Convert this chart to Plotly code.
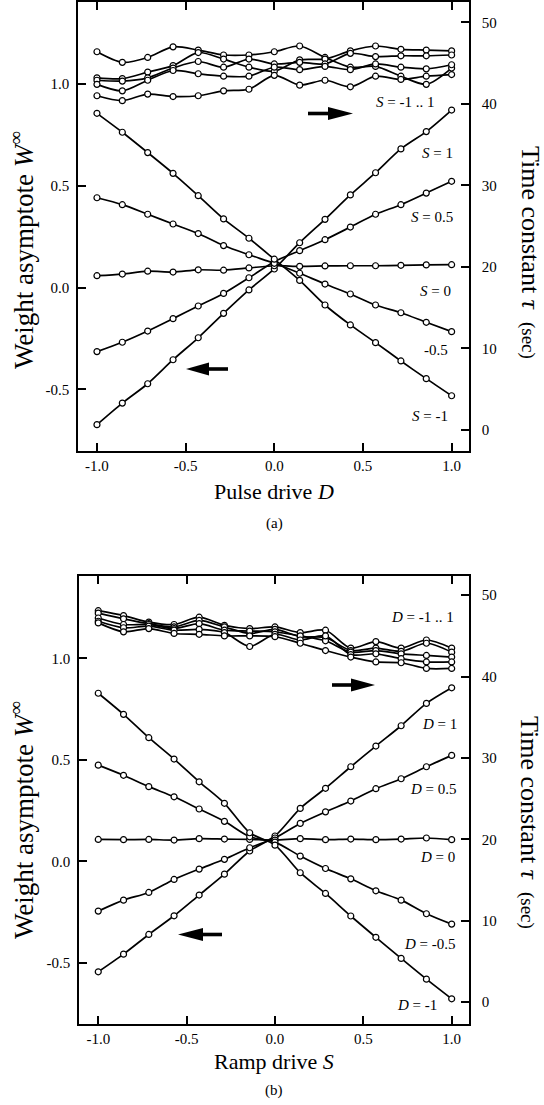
import plotly.graph_objects as go

# ---------------- data ----------------
drive = [-1.0, -0.857, -0.714, -0.571, -0.429, -0.286, -0.143, 0.0,
         0.143, 0.286, 0.429, 0.571, 0.714, 0.857, 1.0]

# panel (a): W-infinity vs pulse drive D, one curve per ramp drive S
a_S_labels = ["S = 1", "S = 0.5", "S = 0", "-0.5", "S = -1"]
a_W_S1 = [-0.674, -0.568, -0.473, -0.355, -0.247, -0.127, -0.012, 0.091, 0.220, 0.335, 0.455, 0.564, 0.681, 0.766, 0.872]
a_W_S05 = [-0.315, -0.269, -0.214, -0.153, -0.091, -0.029, 0.048, 0.127, 0.181, 0.235, 0.297, 0.360, 0.407, 0.464, 0.522]
a_W_S0 = [0.058, 0.066, 0.080, 0.076, 0.087, 0.085, 0.096, 0.107, 0.104, 0.106, 0.107, 0.107, 0.109, 0.111, 0.112]
a_W_Sm05 = [0.441, 0.407, 0.360, 0.312, 0.265, 0.206, 0.161, 0.119, 0.070, 0.017, -0.032, -0.086, -0.124, -0.171, -0.217]
a_W_Sm1 = [0.856, 0.763, 0.663, 0.561, 0.451, 0.337, 0.242, 0.139, 0.035, -0.086, -0.184, -0.271, -0.361, -0.448, -0.532]

# panel (a): time constant tau (sec)
a_tau_1 = [46.4, 45.1, 45.7, 47.0, 46.6, 46.0, 46.0, 46.4, 47.1, 45.7, 44.5, 44.6, 43.4, 42.4, 44.4]
a_tau_2 = [43.2, 43.1, 43.9, 44.7, 46.3, 45.5, 44.5, 44.0, 45.4, 45.5, 46.5, 47.1, 46.7, 46.6, 46.5]
a_tau_3 = [42.9, 42.8, 43.2, 44.4, 45.2, 44.5, 45.5, 44.9, 45.1, 44.9, 46.2, 45.8, 45.9, 45.9, 46.0]
a_tau_4 = [42.4, 41.6, 42.9, 44.1, 43.7, 43.4, 43.4, 44.5, 44.2, 44.6, 44.2, 44.9, 44.5, 44.3, 44.8]
a_tau_5 = [41.0, 40.4, 41.2, 40.9, 41.0, 41.6, 41.8, 43.5, 42.3, 42.9, 42.1, 43.4, 43.0, 43.4, 43.6]

# panel (b): W-infinity vs ramp drive S, one curve per pulse drive D
b_D_labels = ["D = 1", "D = 0.5", "D = 0", "D = -0.5", "D = -1"]
b_W_D1 = [-0.544, -0.457, -0.360, -0.268, -0.166, -0.063, 0.051, 0.125, 0.261, 0.360, 0.466, 0.568, 0.668, 0.778, 0.855]
b_W_D05 = [-0.245, -0.191, -0.153, -0.089, -0.038, 0.010, 0.067, 0.115, 0.187, 0.244, 0.297, 0.358, 0.407, 0.466, 0.522]
b_W_D0 = [0.108, 0.107, 0.108, 0.105, 0.112, 0.110, 0.108, 0.105, 0.112, 0.107, 0.110, 0.107, 0.110, 0.115, 0.107]
b_W_Dm05 = [0.474, 0.424, 0.368, 0.318, 0.258, 0.197, 0.121, 0.095, 0.026, -0.035, -0.086, -0.145, -0.191, -0.258, -0.309]
b_W_Dm1 = [0.828, 0.724, 0.609, 0.504, 0.392, 0.286, 0.141, 0.080, -0.056, -0.158, -0.269, -0.374, -0.478, -0.580, -0.677]

# panel (b): time constant tau (sec)
b_tau_1 = [48.1, 47.5, 46.7, 46.4, 47.3, 46.3, 45.9, 46.1, 45.4, 45.7, 43.5, 44.3, 43.5, 44.5, 43.5]
b_tau_2 = [47.8, 47.1, 46.5, 46.1, 46.9, 46.1, 45.3, 45.8, 44.9, 44.8, 43.2, 43.5, 43.1, 44.1, 43.0]
b_tau_3 = [47.2, 46.4, 46.4, 45.9, 46.5, 45.7, 45.6, 45.5, 45.0, 44.4, 43.0, 43.2, 42.8, 42.6, 42.4]
b_tau_4 = [46.8, 46.0, 46.2, 45.7, 45.8, 45.4, 43.7, 45.2, 44.5, 45.0, 42.7, 42.8, 42.2, 41.8, 41.8]
b_tau_5 = [46.6, 45.5, 45.9, 45.3, 45.2, 45.0, 45.0, 44.9, 44.1, 43.2, 42.4, 41.8, 41.7, 41.0, 41.0]

x_tickvals = [-1.0, -0.5, 0.0, 0.5, 1.0]
x_ticktext = ["-1.0", "-0.5", "0.0", "0.5", "1.0"]
w_tickvals = [-0.5, 0.0, 0.5, 1.0]
w_ticktext = ["-0.5", "0.0", "0.5", "1.0"]
tau_tickvals = [0, 10, 20, 30, 40, 50]
tau_ticktext = ["0", "10", "20", "30", "40", "50"]

# ---------------- figure ----------------
FW, FH = 544, 1105
SERIF = "Liberation Serif, Times New Roman, serif"


def px(x):
    return x / FW


def py(y):
    return 1 - y / FH


fig = go.Figure()


def add_curve(xs, ys, xa, ya):
    fig.add_trace(go.Scatter(
        x=xs, y=ys, xaxis=xa, yaxis=ya, mode="lines+markers",
        line=dict(color="black", width=1.7, shape="spline", smoothing=0.8),
        marker=dict(symbol="circle", size=6, color="white",
                    line=dict(color="black", width=1.2)),
        showlegend=False, hoverinfo="skip"))


for ys in [a_W_S1, a_W_S05, a_W_S0, a_W_Sm05, a_W_Sm1]:
    add_curve(drive, ys, "x", "y")
for ys in [a_tau_1, a_tau_2, a_tau_3, a_tau_4, a_tau_5]:
    add_curve(drive, ys, "x", "y2")
for ys in [b_W_D1, b_W_D05, b_W_D0, b_W_Dm05, b_W_Dm1]:
    add_curve(drive, ys, "x2", "y3")
for ys in [b_tau_1, b_tau_2, b_tau_3, b_tau_4, b_tau_5]:
    add_curve(drive, ys, "x2", "y4")

axis_common = dict(showline=True, linecolor="black", linewidth=1.6,
                   ticks="inside", ticklen=8, tickwidth=1.6, tickcolor="black",
                   showgrid=False, zeroline=False,
                   tickfont=dict(family=SERIF, size=15, color="black"))

fig.update_layout(
    width=FW, height=FH, margin=dict(l=0, r=0, t=0, b=0),
    paper_bgcolor="white", plot_bgcolor="white",
    xaxis=dict(domain=[px(78), px(469)], anchor="y", range=[-1.107, 1.098],
               tickvals=x_tickvals, ticktext=x_ticktext, mirror="ticks", **axis_common),
    yaxis=dict(domain=[py(450.7), py(2)], anchor="x", range=[-0.802, 1.403],
               tickvals=w_tickvals, ticktext=w_ticktext, ticklabelstandoff=4, **axis_common),
    yaxis2=dict(overlaying="y", side="right", anchor="x", range=[-2.54, 52.5],
                tickvals=tau_tickvals, ticktext=tau_ticktext, ticklabelstandoff=8, **axis_common),
    xaxis2=dict(domain=[px(79), px(469)], anchor="y3", range=[-1.109, 1.098],
                tickvals=x_tickvals, ticktext=x_ticktext, mirror="ticks", **axis_common),
    yaxis3=dict(domain=[py(1024), py(575.7)], anchor="x2", range=[-0.801, 1.407],
                tickvals=w_tickvals, ticktext=w_ticktext, ticklabelstandoff=4, **axis_common),
    yaxis4=dict(overlaying="y3", side="right", anchor="x2", range=[-2.7, 52.4],
                tickvals=tau_tickvals, ticktext=tau_ticktext, ticklabelstandoff=8, **axis_common),
)

annotations = []


def text_at(x, y, text, size=15, angle=0):
    annotations.append(dict(x=px(x), y=py(y), xref="paper", yref="paper", text=text,
                            showarrow=False, textangle=angle, xanchor="center", yanchor="middle",
                            font=dict(family=SERIF, size=size, color="black")))


def italic_label(s):
    if s.startswith("S") or s.startswith("D"):
        return "<i>" + s[0] + "</i>" + s[1:]
    return s


# panel (a) texts
text_at(405, 102, italic_label("S = -1 .. 1"))
for (lx, ly), lab in zip([(437, 153), (432, 217), (435, 291), (436, 350), (430, 416)], a_S_labels):
    text_at(lx, ly, italic_label(lab))
text_at(274, 491, "Pulse drive <i>D</i>", size=22)
text_at(274, 523, "(a)", size=15)
text_at(22, 250, "Weight asymptote <i>W</i><sup>∞</sup>", size=27, angle=-90)
text_at(530, 252, "Time constant <i>τ</i>  <span style='font-size:19px'>(sec)</span>", size=26, angle=90)

# panel (b) texts
text_at(422, 617, italic_label("D = -1 .. 1"))
for (lx, ly), lab in zip([(439, 724), (433, 789), (437, 857), (430, 944), (417, 1005)], b_D_labels):
    text_at(lx, ly, italic_label(lab))
text_at(274, 1061, "Ramp drive <i>S</i>", size=22)
text_at(274, 1090, "(b)", size=15)
text_at(22, 820, "Weight asymptote <i>W</i><sup>∞</sup>", size=27, angle=-90)
text_at(530, 822, "Time constant <i>τ</i>  <span style='font-size:19px'>(sec)</span>", size=26, angle=90)

fig.update_layout(annotations=annotations)

# arrows (drawn as shapes in paper coordinates)
shapes = []


def arrow(x_tail, x_neck, x_head, yc, shaft_h=3.6, head_h=13):
    shapes.append(dict(type="path", xref="paper", yref="paper",
                       path=f"M{px(x_tail)},{py(yc - shaft_h / 2)} L{px(x_neck)},{py(yc - shaft_h / 2)} "
                            f"L{px(x_neck)},{py(yc + shaft_h / 2)} L{px(x_tail)},{py(yc + shaft_h / 2)} Z",
                       fillcolor="black", line=dict(width=0)))
    shapes.append(dict(type="path", xref="paper", yref="paper",
                       path=f"M{px(x_neck)},{py(yc - head_h / 2)} L{px(x_head)},{py(yc)} "
                            f"L{px(x_neck)},{py(yc + head_h / 2)} Z",
                       fillcolor="black", line=dict(width=0)))


arrow(308, 328, 353, 113.5)
arrow(228, 209, 186, 369)
arrow(332, 351, 375, 685)
arrow(222, 203, 178, 934.5)

fig.update_layout(shapes=shapes)

# remove the browser's default 8px body margin so the figure fills the window exactly
fig.write_html("out.html", config={"displayModeBar": False},
               post_script="document.body.style.margin='0';document.body.style.overflow='hidden';")
